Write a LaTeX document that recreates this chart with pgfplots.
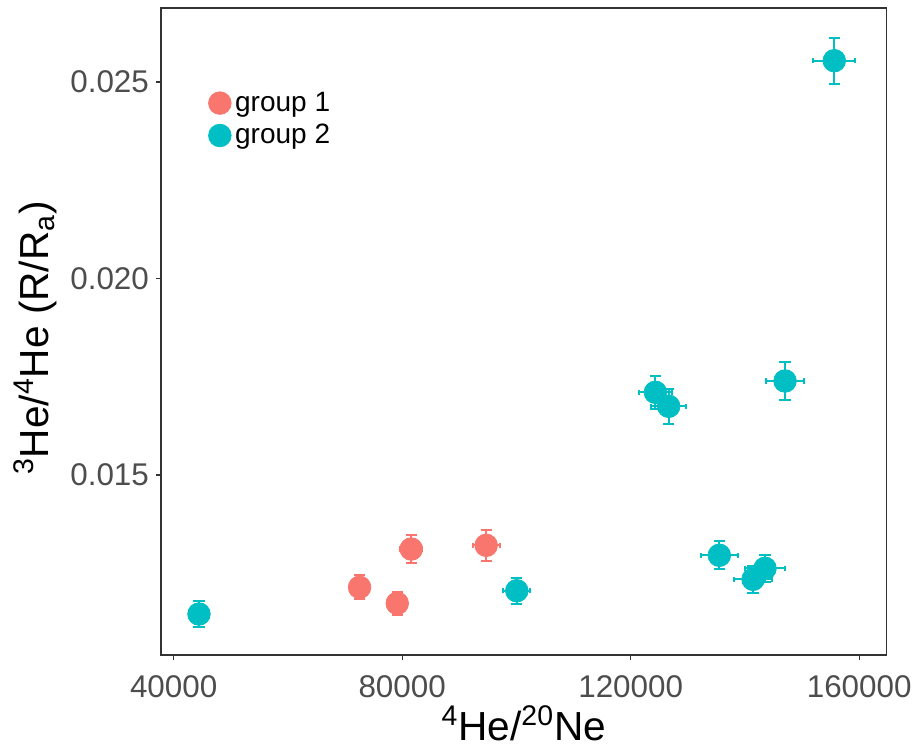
\documentclass[border=0pt]{standalone}
\usepackage{pgfplots}
\pgfplotsset{compat=1.18}
\usepackage{pgfplotstable}
\usepackage{fontspec}
\setmainfont{Liberation Sans}
\definecolor{gOne}{HTML}{F8766D}
\definecolor{gTwo}{HTML}{00BFC4}
\definecolor{tickgrey}{HTML}{4D4D4D}
\definecolor{framegrey}{HTML}{333333}

\pgfplotstableread{
x y ex ey
72540 0.012143 1500 0.000305
79135 0.011735 1500 0.000300
81590 0.013117 1900 0.000356
94710 0.013211 2330 0.000390
}\groupone

\pgfplotstableread{
x y ex ey
44430 0.011463 1500 0.000330
100060 0.012056 2330 0.000330
124330 0.017104 2920 0.000425
126650 0.016748 3030 0.000440
135520 0.012957 3270 0.000356
141420 0.012346 3380 0.000350
143520 0.012626 3500 0.000340
147020 0.017392 3360 0.000490
155640 0.025542 3670 0.000590
}\grouptwo

\begin{document}
\begin{tikzpicture}
\path[use as bounding box] (-80.5pt,-48pt) rectangle (379.5pt,327.5pt);
\begin{axis}[
  at={(0pt,0pt)}, anchor=south west,
  width=362.75pt, height=323.5pt, scale only axis,
  xmin=37780, xmax=164780, ymin=0.01042, ymax=0.026883,
  xtick={40000,80000,120000,160000}, ytick={0.015,0.020,0.025},
  axis line style={framegrey, line width=0.6pt},
  tick style={framegrey, line width=0.6pt},
  tick align=outside, major tick length=2.5pt,
  xtick pos=bottom, ytick pos=left,
  scaled ticks=false,
  /pgf/number format/assume math mode=true,
  ticklabel style={font=\fontsize{15.7}{18}\selectfont, text=tickgrey},
  xticklabel style={yshift=-4.3pt, /pgf/number format/.cd, fixed, precision=0, 1000 sep={}},
  yticklabel style={/pgf/number format/.cd, fixed, fixed zerofill, precision=3},
  xlabel={\textsuperscript{4}He/\textsuperscript{20}Ne},
  ylabel={\textsuperscript{3}He/\textsuperscript{4}He (R/R\textsubscript{a})},
  label style={font=\fontsize{20.3}{24}\selectfont},
  xlabel style={at={(axis description cs:0.5,0)}, anchor=center, yshift=-34pt},
  ylabel style={at={(axis description cs:-0.1737,0.49)}, anchor=center},
  legend style={at={(axis description cs:0.065,0.877)}, anchor=north west,
    draw=none, fill=none, inner sep=0pt, row sep=1pt,
    font=\fontsize{14}{16}\selectfont,
    legend cell align=left},
]
% error bars group 1
\addplot[forget plot, only marks, mark=none, gOne,
  error bars/.cd, y dir=both, y explicit, error mark=|,
  error bar style={line width=1pt, gOne},
  error mark options={draw=gOne, mark size=2.8pt, line width=1pt}]
  table[x=x, y=y, y error=ey]{\groupone};
\addplot[forget plot, only marks, mark=none, gOne,
  error bars/.cd, x dir=both, x explicit, error mark=|,
  error bar style={line width=1pt, gOne},
  error mark options={draw=gOne, mark size=1.3pt, line width=1pt}]
  table[x=x, y=y, x error=ex]{\groupone};
% error bars group 2
\addplot[forget plot, only marks, mark=none, gTwo,
  error bars/.cd, y dir=both, y explicit, error mark=|,
  error bar style={line width=1pt, gTwo},
  error mark options={draw=gTwo, mark size=2.8pt, line width=1pt}]
  table[x=x, y=y, y error=ey]{\grouptwo};
\addplot[forget plot, only marks, mark=none, gTwo,
  error bars/.cd, x dir=both, x explicit, error mark=|,
  error bar style={line width=1pt, gTwo},
  error mark options={draw=gTwo, mark size=1.3pt, line width=1pt}]
  table[x=x, y=y, x error=ex]{\grouptwo};
% points
\addplot[only marks, mark=*, mark size=5.65pt, mark options={draw=gOne, fill=gOne}]
  table[x=x, y=y]{\groupone};
\addlegendentry{group 1}
\addplot[only marks, mark=*, mark size=5.65pt, mark options={draw=gTwo, fill=gTwo}]
  table[x=x, y=y]{\grouptwo};
\addlegendentry{group 2}
\end{axis}
\end{tikzpicture}
\end{document}
